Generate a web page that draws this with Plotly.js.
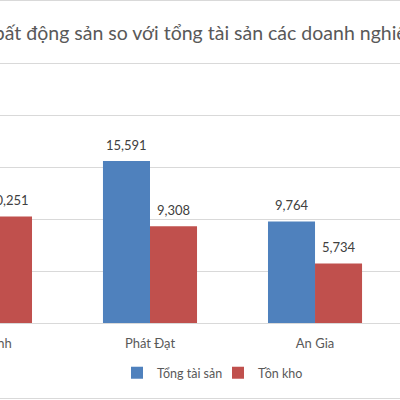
<!DOCTYPE html>
<html>
<head>
<meta charset="utf-8">
<script src="https://cdn.plot.ly/plotly-3.0.1.min.js"></script>
<style>
html, body { margin: 0; padding: 0; width: 400px; height: 400px; overflow: hidden; background: #fff; }
#frame { position: absolute; left: 0; top: 0; width: 400px; height: 400px; overflow: hidden; }
/* the chart is wider than the window; only its middle part shows, as in the cropped picture */
#chart { position: absolute; left: -200px; top: 0; width: 900px; height: 400px; }
#edge { position: absolute; left: 0; top: 0; width: 400px; height: 399px; box-sizing: border-box;
        border-top: 1px solid #d9d9d9; border-bottom: 1px solid #d9d9d9; pointer-events: none; }
</style>
</head>
<body>
<div id="frame"><div id="chart"></div><div id="edge"></div></div>
<script>
// values (the first company's total assets bar is outside the crop)
const companies   = ["Đất Xanh", "Phát Đạt", "An Gia"];
const totalAssets = [null, 15591, 9764];
const inventory   = [10251, 9308, 5734];
const seriesNames = ["Tổng tài sản", "Tồn kho"];
const chartTitle  = "Tồn kho bất động sản so với tổng tài sản các doanh nghiệp";

const FONT = "Lato, 'Open Sans', sans-serif";
const BLUE = "#4f81bd";
const RED  = "#c0504d";

const traces = [
    { type: "bar", name: seriesNames[0], x: companies, y: totalAssets, marker: { color: BLUE }, hoverinfo: "skip" },
    { type: "bar", name: seriesNames[1], x: companies, y: inventory,   marker: { color: RED },  hoverinfo: "skip" },
];

// value labels above each bar, placed at the bar centres of the grouped layout
const HALF = 0.1424;
const labels = [];
[[totalAssets, -HALF], [inventory, HALF]].forEach(([vals, dx]) => {
    vals.forEach((v, i) => {
        if (v == null) return;
        labels.push({
            x: i + dx, y: v, xref: "x", yref: "y",
            text: v.toLocaleString("en-US"),
            showarrow: false, yanchor: "middle", yshift: 16,
            font: { family: FONT, size: 13, color: "#404040" },
        });
    });
});

const layout = {
    width: 900, height: 400,
    paper_bgcolor: "#fff", plot_bgcolor: "#fff",
    margin: { t: 62, b: 77, l: 100, r: 0 },
    font: { family: FONT, color: "#595959" },
    title: {
        text: chartTitle,
        xref: "container", x: 0.1329, xanchor: "left",
        yref: "container", y: 0.9175, yanchor: "middle",
        font: { family: FONT, size: 19.5, color: "#595959" },
    },
    barmode: "group", bargap: 0.43, bargroupgap: 0,
    xaxis: {
        type: "category", range: [-0.515, 4.333],
        showgrid: false, showline: true, linecolor: "#d9d9d9", linewidth: 1,
        ticks: "", ticklabelstandoff: 8, tickfont: { size: 13, color: "#595959" },
    },
    yaxis: {
        range: [0, 25100], dtick: 5000, tickformat: ",",
        gridcolor: "#d9d9d9", gridwidth: 1, zeroline: false, showline: false,
        tickfont: { size: 12, color: "#595959" },
    },
    showlegend: true,
    legend: {
        orientation: "h", x: 0.27125, xanchor: "left", y: -0.192, yanchor: "middle",
        entrywidth: 56, itemwidth: 30,
        font: { size: 12.5, color: "#595959" },
    },
    annotations: labels,
};

Plotly.newPlot("chart", traces, layout, { staticPlot: true });
</script>
</body>
</html>
